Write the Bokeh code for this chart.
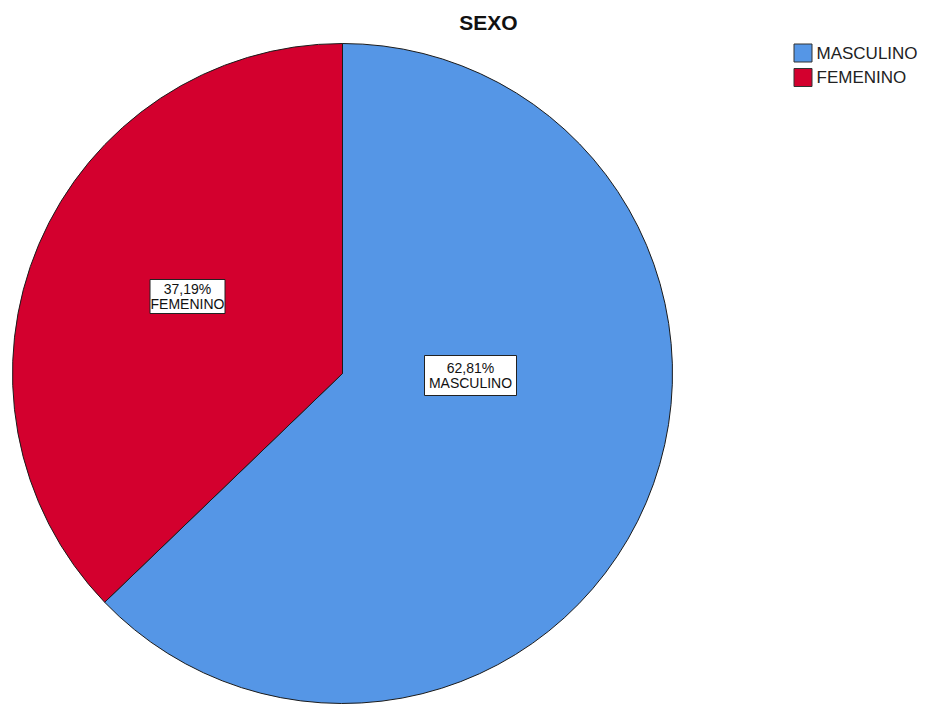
import math
from bokeh.plotting import figure
from bokeh.models import Range1d, ColumnDataSource
from bokeh.core.properties import value
from bokeh.embed import file_html
from bokeh.resources import INLINE

title = "SEXO"
categories = ["MASCULINO", "FEMENINO"]
percentages = [62.81, 37.19]
pct_labels = ["62,81%", "37,19%"]
colors = ["#5596E6", "#D3002E"]

W, H = 924, 706
FONT = "Liberation Sans"

p = figure(width=W, height=H, x_range=Range1d(0, W), y_range=Range1d(0, H),
           output_backend="svg", toolbar_location=None, min_border=0)
p.axis.visible = False
p.grid.visible = False
p.outline_line_color = None
p.background_fill_color = "white"
p.border_fill_color = "white"

# screen -> data helpers
def sx(x):
    return x
def sy(y):
    return H - y

cx, cy, r = sx(342), sy(373), 330

# wedges clockwise from the top, in legend order
total = sum(percentages)
starts, ends = [], []
cur = math.pi / 2
for v in percentages:
    a = v / total * 2 * math.pi
    starts.append(cur - a)
    ends.append(cur)
    cur -= a

src = ColumnDataSource(dict(x=[cx] * len(categories), y=[cy] * len(categories),
                            start=starts, end=ends, color=colors, cat=categories))
p.wedge(x="x", y="y", radius=r, start_angle="start", end_angle="end",
        fill_color="color", line_color="#1b1b1b", line_width=1, source=src)

# data labels (offsets from pie centre, in px)
label_offsets = [(128, -2), (-155, 77)]
box_sizes = [(92, 40), (75, 34)]
for i, cat in enumerate(categories):
    lx, ly = cx + label_offsets[i][0], cy + label_offsets[i][1]
    bw, bh = box_sizes[i]
    p.rect(x=[lx], y=[ly], width=bw, height=bh, fill_color="white",
           line_color="#222222", line_width=1)
    p.text(x=[lx, lx], y=[ly + 7.5, ly - 7.5], text=[pct_labels[i], cat],
           text_align="center", text_baseline="middle",
           text_font=value(FONT), text_font_size="14px", text_color="#111111")

# title
p.text(x=[sx(488)], y=[sy(22)], text=[title], text_align="center",
       text_baseline="middle", text_font=value(FONT), text_font_size="21px",
       text_font_style="bold", text_color="#111111")

# legend
leg_y = [52.5, 77]
for i, cat in enumerate(categories):
    p.rect(x=[sx(802.5)], y=[sy(leg_y[i])], width=18, height=18,
           fill_color=colors[i], line_color="#333333", line_width=1)
    p.text(x=[sx(816)], y=[sy(leg_y[i])], text=[cat], text_align="left",
           text_baseline="middle", text_font=value(FONT), text_font_size="17px",
           text_color="#222222")

open("out.html", "w").write(file_html(p, INLINE))
